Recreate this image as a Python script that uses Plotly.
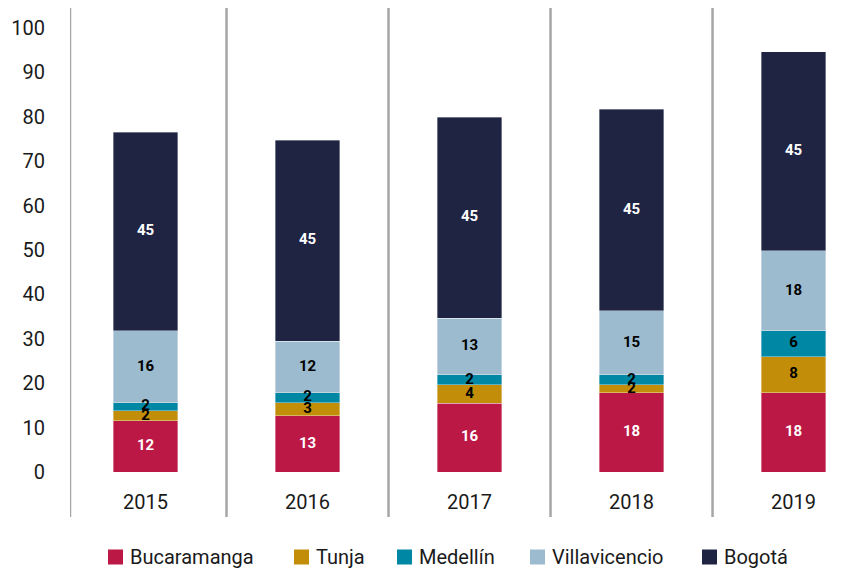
import plotly.graph_objects as go

years = ["2015", "2016", "2017", "2018", "2019"]
series_names = ["Bucaramanga", "Tunja", "Medellín", "Villavicencio", "Bogotá"]
bucaramanga = [11.5, 12.7, 15.5, 17.9, 17.9]
tunja = [2.3, 2.9, 4.1, 1.7, 8.1]
medellin = [1.8, 2.25, 2.25, 2.25, 5.8]
villavicencio = [16.2, 11.6, 12.8, 14.5, 18.0]
bogota = [44.75, 45.3, 45.3, 45.4, 44.8]

lbl_bucaramanga = ["12", "13", "16", "18", "18"]
lbl_tunja = ["2", "3", "4", "2", "8"]
lbl_medellin = ["2", "2", "2", "2", "6"]
lbl_villavicencio = ["16", "12", "13", "15", "18"]
lbl_bogota = ["45", "45", "45", "45", "45"]

y_ticks = [0, 10, 20, 30, 40, 50, 60, 70, 80, 90, 100]

colors = ["#BC1846", "#C28E0A", "#0087A3", "#9DBBCE", "#1E2442"]
text_colors = ["white", "black", "black", "black", "white"]
values = [bucaramanga, tunja, medellin, villavicencio, bogota]
labels = [lbl_bucaramanga, lbl_tunja, lbl_medellin, lbl_villavicencio, lbl_bogota]

FONT = "Roboto"

# layout geometry (pixels within the figure)
W, H = 851, 563
ML, MR, MT, MB = 62, 0, 0, 99
PW, PH = W - ML - MR, H - MT - MB


def px_x(x):
    return (x - ML) / PW


def px_y(y):
    return (H - MB - y) / PH


fig = go.Figure()
for name, vals, col in zip(series_names, values, colors):
    fig.add_trace(go.Bar(
        x=years, y=vals, name=name, showlegend=False,
        marker=dict(color=col, line=dict(color="rgba(255,255,255,0.6)", width=0.6)),
        hoverinfo="skip",
    ))

# segment labels drawn above all bars, at the middle of each stacked segment
base = [0.0] * len(years)
for vals, lbls, tcol in zip(values, labels, text_colors):
    mids = [b + v / 2 for b, v in zip(base, vals)]
    fig.add_trace(go.Scatter(
        x=years, y=mids, mode="text", text=lbls, showlegend=False,
        textfont=dict(family=FONT, size=15, color=tcol, weight="bold"),
        hoverinfo="skip", cliponaxis=False,
    ))
    base = [b + v for b, v in zip(base, vals)]

# category separators
for xv in [-0.466, 0.5, 1.5, 2.5, 3.5]:
    fig.add_shape(type="line", xref="x", yref="paper", x0=xv, x1=xv,
                  y0=-0.097, y1=1.0, line=dict(color="#A6A6A6", width=2.5))

# legend (custom, horizontal row under the chart)
legend_marker_left = [100, 286, 389, 522, 694]
legend_y = 549
for name, col, xl in zip(series_names, colors, legend_marker_left):
    fig.add_shape(type="rect", xref="paper", yref="paper",
                  x0=px_x(xl), x1=px_x(xl + 15), y0=px_y(legend_y - 7.5), y1=px_y(legend_y + 7.5),
                  fillcolor=col, line=dict(width=0))
    fig.add_annotation(xref="paper", yref="paper", x=px_x(xl + 20), y=px_y(legend_y),
                       text=name, showarrow=False, xanchor="left", yanchor="middle",
                       font=dict(family=FONT, size=20, color="#1a1a1a"))

fig.update_layout(
    width=W, height=H,
    barmode="stack", bargap=0.6,
    plot_bgcolor="white", paper_bgcolor="white",
    margin=dict(l=ML, r=MR, t=MT, b=MB, autoexpand=False),
    font=dict(family=FONT, color="#1a1a1a"),
    showlegend=False,
    xaxis=dict(range=[-0.466, 4.404], showgrid=False, showline=False, ticks="",
               tickfont=dict(size=20, color="#1a1a1a"), ticklabelstandoff=16),
    yaxis=dict(range=[0, 104.5], tickvals=y_ticks, showgrid=False, zeroline=False,
               showline=False, ticks="", tickfont=dict(size=20, color="#1a1a1a"),
               ticklabelstandoff=24),
)

fig.write_html("out.html")
